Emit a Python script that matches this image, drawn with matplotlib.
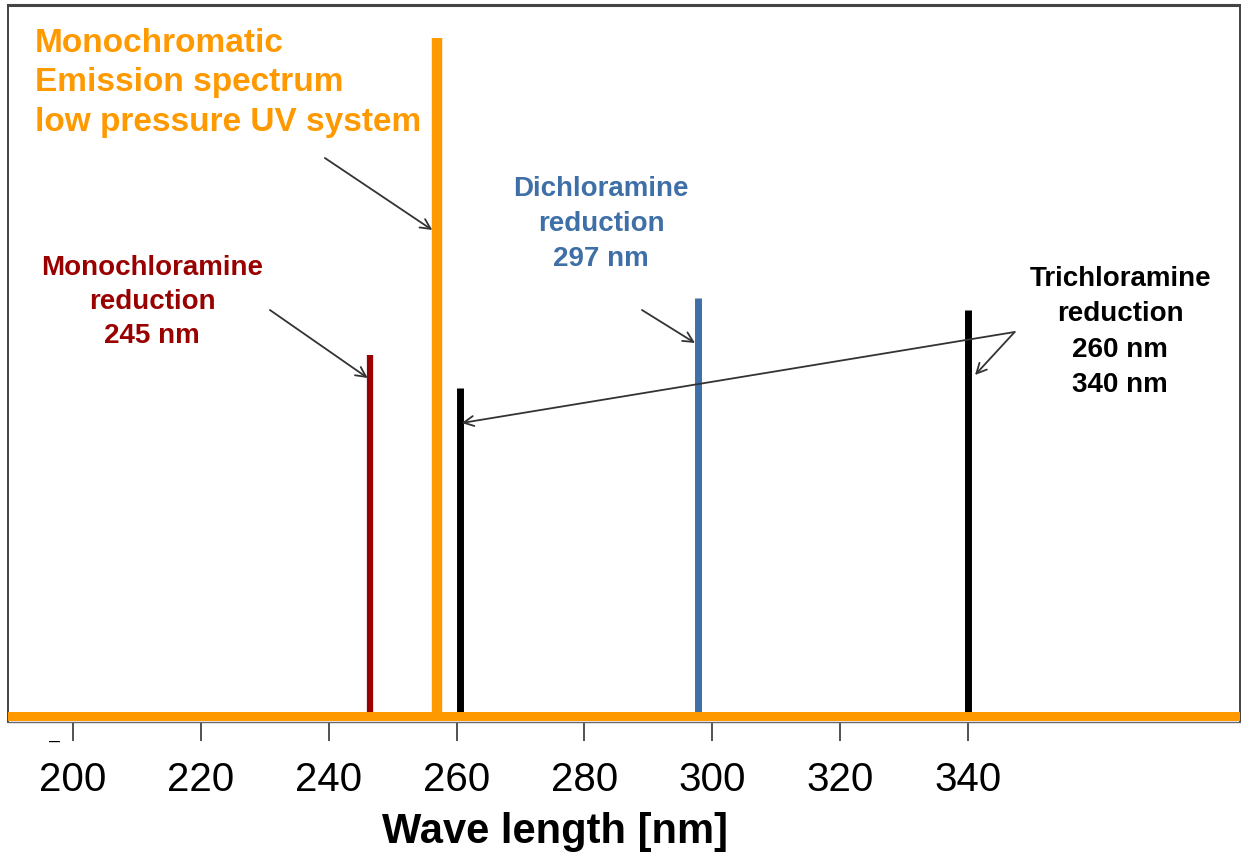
import matplotlib
matplotlib.use("Agg")
import matplotlib.pyplot as plt

# emission / absorption lines (wavelength nm, relative height)
uv_wavelength = 257.0
uv_height = 678

mono_wavelength = 246.5
mono_height = 361

di_wavelength = 297.8
di_height = 418

tri_wavelengths = [260.5, 340.0]
tri_heights = [328, 406]

tick_values = [200, 220, 240, 260, 280, 300, 320, 340]

ORANGE = "#FF9900"
DARKRED = "#990000"
BLUE = "#3E6FA6"
ARROW = "#333333"

plt.rcParams['font.family'] = ['Liberation Sans', 'DejaVu Sans']

fig = plt.figure(figsize=(12.41, 8.61), dpi=100)
ax = fig.add_axes([8 / 1241, 1 - 722 / 861, 1232 / 1241, 717 / 861])

ax.set_xlim(189.83, 382.55)
ax.set_ylim(-6, 711)

# lines
ax.vlines(mono_wavelength, 0, mono_height, color=DARKRED, lw=4.5, zorder=3)
ax.vlines(uv_wavelength, 0, uv_height, color=ORANGE, lw=7.5, zorder=3)
ax.vlines(tri_wavelengths, 0, tri_heights, color="black", lw=5, zorder=3)
ax.vlines(di_wavelength, 0, di_height, color=BLUE, lw=5, zorder=3)
ax.axhline(0, color=ORANGE, lw=6.5, zorder=4)

# labels
ax.text(194.06, 633, "Monochromatic\nEmission spectrum\nlow pressure UV system",
        color=ORANGE, fontsize=24, fontweight="bold", ha="left", va="center",
        linespacing=1.36)
ax.text(212.4, 414, "Monochloramine\nreduction\n245 nm", color=DARKRED,
        fontsize=20, fontweight="bold", ha="center", va="center", linespacing=1.42)
ax.text(282.6, 492, "Dichloramine\nreduction\n297 nm", color=BLUE,
        fontsize=20, fontweight="bold", ha="center", va="center", linespacing=1.45)
ax.text(363.8, 384, "Trichloramine\nreduction\n260 nm\n340 nm", color="black",
        fontsize=20, fontweight="bold", ha="center", va="center", linespacing=1.46)

arrow = dict(arrowstyle="->", color=ARROW, lw=1.3, mutation_scale=18,
             shrinkA=0, shrinkB=0)
ax.annotate("", xy=(256.2, 486), xytext=(239.4, 558), arrowprops=arrow)
ax.annotate("", xy=(246.1, 338), xytext=(230.8, 406), arrowprops=arrow)
ax.annotate("", xy=(297.3, 373), xytext=(289.0, 406), arrowprops=arrow)
ax.annotate("", xy=(260.8, 293), xytext=(347.3, 384), arrowprops=arrow)
ax.annotate("", xy=(341.1, 341), xytext=(347.3, 384), arrowprops=arrow)

# axis
ax.set_xticks(tick_values)
ax.set_xticklabels([str(v) for v in tick_values])
ax.tick_params(axis="x", length=14, width=1.2, pad=14, labelsize=29, color="#333333")
ax.set_yticks([])
ax.set_xlabel("Wave length [nm]", fontsize=30, fontweight="bold")
ax.xaxis.set_label_coords(0.444, -0.125)

for side in ["left", "right"]:
    ax.spines[side].set_color("#444444")
    ax.spines[side].set_linewidth(1.4)
ax.spines["top"].set_color("#444444")
ax.spines["top"].set_linewidth(2.2)
ax.spines["bottom"].set_color("#666666")
ax.spines["bottom"].set_linewidth(1.0)

fig.text(55 / 1241, 1 - 741 / 861, "\u2013", fontsize=14, ha="center", va="center")

fig.savefig("out.png", dpi=100)
